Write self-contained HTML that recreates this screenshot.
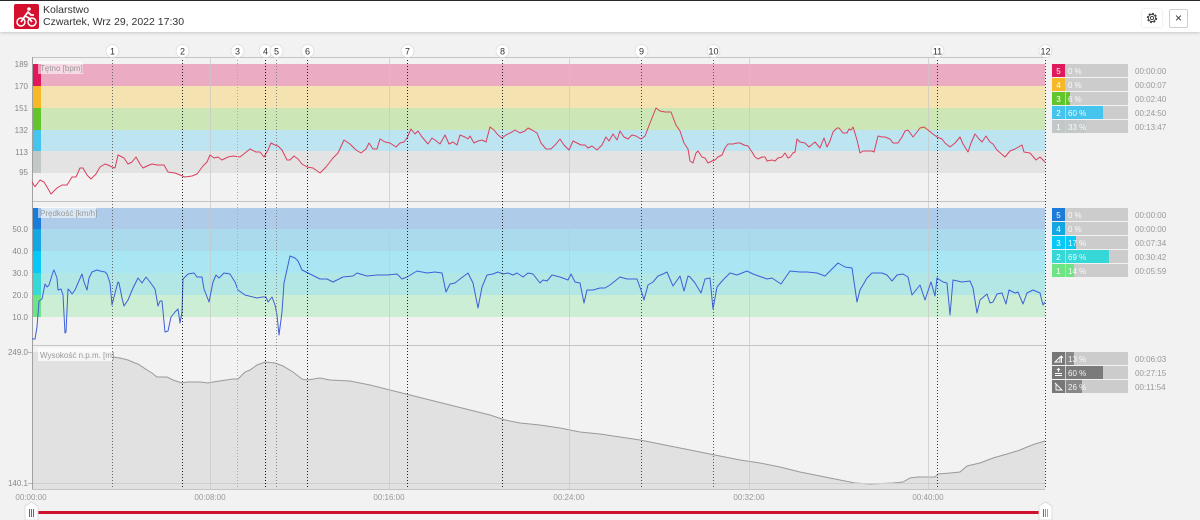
<!DOCTYPE html>
<html><head><meta charset="utf-8"><style>
html,body{margin:0;padding:0}
body{width:1200px;height:520px;background:#f2f2f2;overflow:hidden;position:relative;font-family:"Liberation Sans",sans-serif}
.hdr{position:absolute;left:0;top:0;width:1200px;height:32px;background:#fff;border-top:1px solid #2a2a2a;box-sizing:border-box;box-shadow:0 1px 3px rgba(0,0,0,.18)}
.ico{position:absolute;left:14px;top:3px;width:25px;height:25px;background:#d4102e;border-radius:2px}
.t1{position:absolute;left:43px;top:4px;font-size:10.5px;color:#333;line-height:11px}
.t2{position:absolute;left:43px;top:16px;font-size:10.5px;color:#333;line-height:11px}
.gear{position:absolute;left:1142px;top:8px;width:20px;height:18px;background:#fff;box-shadow:0 0 2px rgba(0,0,0,.15)}
.cls{position:absolute;left:1169px;top:8px;width:17px;height:17px;border:1px solid #d0d0d0;border-radius:2px;background:#fff;text-align:center;font-size:12px;line-height:17px;color:#333}
svg text{font-family:"Liberation Sans",sans-serif}
</style></head><body>
<div class="hdr">
 <div class="ico"><svg width="25" height="25" viewBox="0 0 25 25"><circle cx="7" cy="18" r="4" fill="none" stroke="#fff" stroke-width="1.5"/><circle cx="18" cy="18" r="4" fill="none" stroke="#fff" stroke-width="1.5"/><circle cx="15" cy="5" r="1.8" fill="#fff"/><path d="M7 18 L11 12 L15 14 L18 18 M11 12 L14 8 L17 11 L20 11" fill="none" stroke="#fff" stroke-width="1.8" stroke-linejoin="round"/></svg></div>
 <div class="t1">Kolarstwo</div>
 <div class="t2">Czwartek, Wrz 29, 2022 17:30</div>
 <div class="gear"><svg width="20" height="18" viewBox="0 0 20 18"><circle cx="10" cy="9" r="4.5" fill="none" stroke="#444" stroke-width="1.3" stroke-dasharray="2 1.5"/><circle cx="10" cy="9" r="3.6" fill="none" stroke="#444" stroke-width="1"/><circle cx="10" cy="9" r="1.6" fill="none" stroke="#444" stroke-width="1"/></svg></div>
 <div class="cls">×</div>
</div>
<svg width="1200" height="520" style="position:absolute;left:0;top:0" xmlns="http://www.w3.org/2000/svg">
<!-- HR bands -->
<rect x="32" y="64" width="1013" height="22" fill="#ebacc3"/>
<rect x="32" y="86" width="1013" height="22" fill="#f4e2b0"/>
<rect x="32" y="108" width="1013" height="22" fill="#cce6b6"/>
<rect x="32" y="130" width="1013" height="21" fill="#bde4f1"/>
<rect x="32" y="151" width="1013" height="22" fill="#e2e3e2"/>
<rect x="32" y="64" width="9" height="22" fill="#e0185c"/>
<rect x="32" y="86" width="9" height="22" fill="#f6b826"/>
<rect x="32" y="108" width="9" height="22" fill="#63c52b"/>
<rect x="32" y="130" width="9" height="21" fill="#45c4ee"/>
<rect x="32" y="151" width="9" height="22" fill="#c1c8c7"/>
<!-- speed bands -->
<rect x="32" y="208" width="1013" height="21" fill="#aecce9"/>
<rect x="32" y="229" width="1013" height="22" fill="#acdaed"/>
<rect x="32" y="251" width="1013" height="22" fill="#a9e6f4"/>
<rect x="32" y="273" width="1013" height="22" fill="#b2e7e5"/>
<rect x="32" y="295" width="1013" height="22" fill="#cbeed5"/>
<rect x="32" y="208" width="9" height="21" fill="#1a7bd9"/>
<rect x="32" y="229" width="9" height="22" fill="#12a6e2"/>
<rect x="32" y="251" width="9" height="22" fill="#08c8f7"/>
<rect x="32" y="273" width="9" height="22" fill="#36d7d7"/>
<rect x="32" y="295" width="9" height="22" fill="#6fe485"/>
<!-- elevation area -->
<polygon fill="#e1e1e1" points="32,352 112,352 113,357 120,358 128,360 135,363 138,364 147,370 152,373 157,377 167,377 173,380 182,383 187,382 193,382 200,382 208,383 213,382 233,379 238,379 245,372 250,370 257,365 265,362 275,363 283,366 293,372 302,379 307,380 320,378 330,380 350,381 370,385 390,390 410,395 430,400 450,405 470,410 490,415 505,420 520,423 540,425 560,428 580,432 600,434 620,437 640,440 660,444 680,448 700,452 720,456 740,460 760,463 780,467 800,472 820,476 840,480 855,483 870,484 893,483 903,482 910,478 918,477 935,477 938,474 950,473 960,472 967,466 980,463 993,458 1007,454 1020,450 1027,447 1035,444 1045,441 1045,489 32,489"/>
<polyline fill="none" stroke="#9a9a9a" stroke-width="1" points="112,352 113,357 120,358 128,360 135,363 138,364 147,370 152,373 157,377 167,377 173,380 182,383 187,382 193,382 200,382 208,383 213,382 233,379 238,379 245,372 250,370 257,365 265,362 275,363 283,366 293,372 302,379 307,380 320,378 330,380 350,381 370,385 390,390 410,395 430,400 450,405 470,410 490,415 505,420 520,423 540,425 560,428 580,432 600,434 620,437 640,440 660,444 680,448 700,452 720,456 740,460 760,463 780,467 800,472 820,476 840,480 855,483 870,484 893,483 903,482 910,478 918,477 935,477 938,474 950,473 960,472 967,466 980,463 993,458 1007,454 1020,450 1027,447 1035,444 1045,441"/>
<line x1="32" y1="483.5" x2="1045" y2="483.5" stroke="#cfcfcf"/>
<!-- grid vertical -->
<g stroke="#c8c8c8" stroke-opacity="0.7">
<line x1="210.5" y1="57" x2="210.5" y2="489"/>
<line x1="389.5" y1="57" x2="389.5" y2="489"/>
<line x1="569.5" y1="57" x2="569.5" y2="489"/>
<line x1="749.5" y1="57" x2="749.5" y2="489"/>
<line x1="928.5" y1="57" x2="928.5" y2="489"/>
</g>
<!-- horizontal separators -->
<g stroke="#c4c4c4">
<line x1="32" y1="57.5" x2="1045" y2="57.5"/>
<line x1="32" y1="201.5" x2="1045" y2="201.5"/>
<line x1="32" y1="345.5" x2="1045" y2="345.5"/>
<line x1="32" y1="489.5" x2="1045" y2="489.5"/>
</g>
<line x1="32.5" y1="57" x2="32.5" y2="489" stroke="#a0a0a0"/>
<!-- HR line -->
<polyline fill="none" stroke="#d9405e" stroke-width="1" stroke-linejoin="round" points="32,181.7 35,186.7 40,180 44,182 47,187 51,194 57,188 62,185 67,185 72,177 76,177 80,168 83,168 87,175 91,179 96,174 100,167 105,164 108,165 112,167 115,168 118,155 120,156 124,158 128,164 132,162 136,157 140,164 143,168 147,166 152,164 157,165 164,165 168,172 175,173 180,175 185,177 192,176 197,174 203,166 207,162 210,155 214,158 218,157 222,160 228,157 233,156 240,157 245,153 250,149 256,152 260,152 264,157 268,150 271,143 275,145 278,146 282,150 287,160 290,160 294,156 298,159 302,164 307,167 313,168 320,173 326,167 333,158 338,153 344,140 350,144 356,150 361,153 366,149 369,143 373,149 377,149 380,139 385,142 390,143 396,147 400,143 404,142 407,138 411,129 415,134 418,131 422,137 428,144 432,138 435,140 440,144 445,135 449,144 453,142 457,145 460,135 465,137 468,139 470,136 474,143 478,141 482,140 486,142 490,127 494,130 498,135 502,138 506,135 512,132 515,130 520,133 525,131 528,128 532,130 537,133 541,143 546,149 551,149 556,144 560,139 564,145 569,150 573,141 577,143 581,145 585,145 588,148 592,146 597,150 602,145 606,137 609,141 613,134 617,140 620,131 624,137 628,139 632,135 636,136 641,139 645,136 650,123 656,108 660,111 665,112 671,112 676,125 680,131 684,143 688,149 690,161 693,163 696,153 698,151 702,157 705,158 708,163 712,161 715,160 718,157 722,155 725,148 728,144 733,144 737,143 740,143 744,145 748,146 752,152 755,157 758,159 762,157 765,157 767,161 772,160 775,161 778,158 782,157 785,153 788,158 790,157 793,153 795,152 797,139 800,142 805,143 809,147 815,142 820,148 824,138 827,147 830,141 833,132 837,128 839,128 843,133 847,133 849,129 851,130 853,127 854,130 857,140 860,153 863,151 872,151 874,152 878,136 882,137 885,137 890,139 893,143 898,143 902,137 905,131 908,130 913,137 917,132 920,128 924,127 928,130 933,134 937,137 942,139 945,143 950,147 955,143 960,137 963,144 968,152 971,143 975,134 979,139 982,142 986,136 990,142 993,144 997,150 1005,157 1010,151 1015,149 1022,145 1024,152 1030,153 1036,160 1040,157 1045,162"/>
<!-- speed line -->
<polyline fill="none" stroke="#3d5fd9" stroke-width="1" stroke-linejoin="round" points="32,339 35,339 37,327 39,301 42,299 45,284 47,287 49,285 53,272 54,270 57,278 58,290 61,289 63,295 65,333 66,332 68,289 70,291 72,294 75,290 78,283 82,274 84,282 87,290 89,278 92,272 97,270 100,271 105,272 107,274 110,283 112,305 115,293 118,282 119,283 122,298 124,306 128,300 133,288 138,278 142,283 146,277 150,282 155,289 158,306 160,301 162,301 165,332 168,331 171,317 175,312 178,309 180,323 182,312 183,279 188,274 194,273 197,277 202,277 204,289 209,302 213,282 216,275 219,278 224,273 230,274 235,282 238,290 245,295 257,298 262,297 266,297 268,302 272,297 275,305 277,315 279,335 282,312 284,283 290,256 295,258 298,261 302,270 306,272 312,275 320,279 327,279 333,282 343,277 353,276 357,273 367,276 377,275 387,275 397,274 402,279 407,277 417,271 427,273 435,272 442,273 446,292 450,284 455,283 460,279 468,273 473,283 478,308 482,287 487,275 493,274 498,272 503,274 508,273 513,275 517,273 523,277 528,273 533,274 540,283 543,280 547,281 552,275 560,277 568,280 571,274 575,282 580,283 584,303 587,290 593,290 600,288 605,288 610,285 620,277 627,279 637,279 642,293 644,300 648,285 653,282 658,276 663,274 667,272 673,286 680,276 684,291 688,276 690,277 695,283 701,293 705,279 710,278 713,309 717,287 723,280 730,273 737,275 747,271 753,274 767,279 772,278 781,284 790,271 800,272 807,272 817,273 825,276 838,263 845,267 852,268 857,302 860,290 867,278 872,273 882,273 887,275 892,281 897,275 903,274 908,277 912,295 920,285 925,300 931,282 935,296 937,278 943,282 947,283 950,315 953,280 962,282 970,281 973,288 977,313 980,300 987,294 990,303 993,302 997,294 1002,293 1006,304 1009,290 1015,293 1018,292 1023,304 1027,293 1033,290 1040,293 1043,305 1045,302"/>
<!-- panel labels -->
<rect x="38" y="61" width="45" height="13" fill="#fff" fill-opacity="0.55"/>
<text x="40" y="71" font-size="8" fill="#999">Tętno [bpm]</text>
<rect x="38" y="207" width="58" height="11" fill="#fff" fill-opacity="0.55"/>
<text x="40" y="216" font-size="8" fill="#999">Prędkość [km/h]</text>
<rect x="38" y="348" width="75" height="13" fill="#fff" fill-opacity="0.7"/>
<text x="40" y="358" font-size="8" fill="#999">Wysokość n.p.m. [m]</text>
<!-- lap lines -->
<g stroke-dasharray="1 2" stroke-width="1">
<line x1="112.5" y1="57" x2="112.5" y2="489" stroke="#666"/>
<line x1="182.5" y1="57" x2="182.5" y2="489" stroke="#222"/>
<line x1="237.5" y1="57" x2="237.5" y2="489" stroke="#aaa"/>
<line x1="265.5" y1="57" x2="265.5" y2="489" stroke="#111"/>
<line x1="276.5" y1="57" x2="276.5" y2="489" stroke="#888"/>
<line x1="307.5" y1="57" x2="307.5" y2="489" stroke="#222"/>
<line x1="407.5" y1="57" x2="407.5" y2="489" stroke="#222"/>
<line x1="502.5" y1="57" x2="502.5" y2="489" stroke="#222"/>
<line x1="641.5" y1="57" x2="641.5" y2="489" stroke="#444"/>
<line x1="713.5" y1="57" x2="713.5" y2="489" stroke="#555"/>
<line x1="937.5" y1="57" x2="937.5" y2="489" stroke="#333"/>
<line x1="1045.5" y1="57" x2="1045.5" y2="489" stroke="#333"/>
</g>
<g fill="#fff" stroke="#dcdcdc" stroke-width="0.8">
<circle cx="112.5" cy="51" r="6.5"/><circle cx="182.5" cy="51" r="6.5"/><circle cx="237.5" cy="51" r="6.5"/><circle cx="265.5" cy="51" r="6.5"/><circle cx="276.5" cy="51" r="6.5"/><circle cx="307.5" cy="51" r="6.5"/><circle cx="407.5" cy="51" r="6.5"/><circle cx="502.5" cy="51" r="6.5"/><circle cx="641.5" cy="51" r="6.5"/><circle cx="713.5" cy="51" r="6.5"/><circle cx="937.5" cy="51" r="6.5"/><circle cx="1045.5" cy="51" r="6.5"/>
</g>
<g font-size="9" fill="#333" text-anchor="middle">
<text x="112.5" y="54.5">1</text><text x="182.5" y="54.5">2</text><text x="237.5" y="54.5">3</text><text x="265.5" y="54.5">4</text><text x="276.5" y="54.5">5</text><text x="307.5" y="54.5">6</text><text x="407.5" y="54.5">7</text><text x="502.5" y="54.5">8</text><text x="641.5" y="54.5">9</text><text x="713.5" y="54.5">10</text><text x="937.5" y="54.5">11</text><text x="1045.5" y="54.5">12</text>
</g>
<!-- y tick labels -->
<g font-size="8" fill="#888" text-anchor="end">
<text x="28" y="67">189</text><text x="28" y="89">170</text><text x="28" y="111">151</text><text x="28" y="133">132</text><text x="28" y="155">113</text><text x="28" y="175">95</text>
<text x="28" y="232">50.0</text><text x="28" y="254">40.0</text><text x="28" y="276">30.0</text><text x="28" y="298">20.0</text><text x="28" y="320">10.0</text>
<text x="28" y="355">249.0</text><text x="28" y="486">140.1</text>
</g>
<line x1="28" y1="352.5" x2="32" y2="352.5" stroke="#bbb"/>
<line x1="28" y1="483.5" x2="32" y2="483.5" stroke="#bbb"/>
<!-- x labels -->
<g font-size="8" fill="#999" text-anchor="middle">
<text x="31" y="500">00:00:00</text><text x="210" y="500">00:08:00</text><text x="389" y="500">00:16:00</text><text x="569" y="500">00:24:00</text><text x="749" y="500">00:32:00</text><text x="928" y="500">00:40:00</text>
</g>
<!-- slider -->
<rect x="32" y="511" width="1013" height="3" fill="#d0102f"/>
<g fill="#fff" stroke="#d8d8d8" stroke-width="0.8">
<polygon points="25,506 31.5,502 38,506 38,520 25,520"/>
<polygon points="1039,506 1045.5,502 1052,506 1052,520 1039,520"/>
</g>
<g stroke="#e0304a" stroke-width="1">
<line x1="29.5" y1="509" x2="29.5" y2="517"/><line x1="31.5" y1="509" x2="31.5" y2="517"/><line x1="33.5" y1="509" x2="33.5" y2="517"/>
<line x1="1043.5" y1="509" x2="1043.5" y2="517"/><line x1="1045.5" y1="509" x2="1045.5" y2="517" stroke="#e86a80"/><line x1="1047.5" y1="509" x2="1047.5" y2="517" stroke="#d88ab0"/>
</g>
<!-- legends -->
<g fill="#cccccc">
<rect x="1065" y="64" width="63" height="13"/><rect x="1065" y="78" width="63" height="13"/><rect x="1065" y="92" width="63" height="13"/><rect x="1065" y="106" width="63" height="13"/><rect x="1065" y="120" width="63" height="13"/>
<rect x="1065" y="208" width="63" height="13"/><rect x="1065" y="222" width="63" height="13"/><rect x="1065" y="236" width="63" height="13"/><rect x="1065" y="250" width="63" height="13"/><rect x="1065" y="264" width="63" height="13"/>
<rect x="1065" y="352" width="63" height="13"/><rect x="1065" y="366" width="63" height="13"/><rect x="1065" y="380" width="63" height="13"/>
</g>
<rect x="1052" y="64" width="13" height="13" fill="#e0185c"/>
<rect x="1052" y="78" width="13" height="13" fill="#f6b826"/>
<rect x="1052" y="92" width="13" height="13" fill="#63c52b"/><rect x="1066" y="92" width="4" height="13" fill="#63c52b"/>
<rect x="1052" y="106" width="13" height="13" fill="#45c4ee"/><rect x="1066" y="106" width="37" height="13" fill="#45c4ee"/>
<rect x="1052" y="120" width="13" height="13" fill="#c1c8c7"/><rect x="1066" y="120" width="20" height="13" fill="#c3c9c8"/>
<rect x="1052" y="208" width="13" height="13" fill="#1a7bd9"/>
<rect x="1052" y="222" width="13" height="13" fill="#12a6e2"/>
<rect x="1052" y="236" width="13" height="13" fill="#08c8f7"/><rect x="1066" y="236" width="10" height="13" fill="#08c8f7"/>
<rect x="1052" y="250" width="13" height="13" fill="#36d7d7"/><rect x="1066" y="250" width="43" height="13" fill="#36d7d7"/>
<rect x="1052" y="264" width="13" height="13" fill="#6fe485"/><rect x="1066" y="264" width="8" height="13" fill="#6fe485"/>
<g fill="#777"><rect x="1052" y="352" width="13" height="13"/><rect x="1052" y="366" width="13" height="13"/><rect x="1052" y="380" width="13" height="13"/></g>
<rect x="1066" y="352" width="8" height="13" fill="#888"/>
<rect x="1066" y="366" width="37" height="13" fill="#7a7a7a"/>
<rect x="1066" y="380" width="16" height="13" fill="#888"/>
<g stroke="#fff" stroke-width="0.9" fill="none">
<path d="M1055 362 L1060 357 L1060 362 Z M1061.5 356 L1061.5 363 M1060 358 L1061.5 356 L1063 358"/>
<path d="M1055 375.5 L1062 375.5 M1055 373.5 L1062 373.5 M1058.5 368.5 L1058.5 372 M1057 370 L1058.5 368.5 L1060 370"/>
<path d="M1056 390 L1056 384 L1062 390 Z M1055 383 L1058 386"/>
</g>
<g font-size="8" fill="#fff" text-anchor="middle">
<text x="1058.5" y="74">5</text><text x="1058.5" y="88">4</text><text x="1058.5" y="102">3</text><text x="1058.5" y="116">2</text><text x="1058.5" y="130">1</text>
<text x="1058.5" y="218">5</text><text x="1058.5" y="232">4</text><text x="1058.5" y="246">3</text><text x="1058.5" y="260">2</text><text x="1058.5" y="274">1</text>
</g>
<g font-size="8" fill="#fff" fill-opacity="0.9">
<text x="1068" y="74">0 %</text><text x="1068" y="88">0 %</text><text x="1068" y="102">6 %</text><text x="1068" y="116">60 %</text><text x="1068" y="130">33 %</text>
<text x="1068" y="218">0 %</text><text x="1068" y="232">0 %</text><text x="1068" y="246">17 %</text><text x="1068" y="260">69 %</text><text x="1068" y="274">14 %</text>
<text x="1068" y="362">13 %</text><text x="1068" y="376">60 %</text><text x="1068" y="390">26 %</text>
</g>
<g font-size="8" fill="#999">
<text x="1135" y="74">00:00:00</text><text x="1135" y="88">00:00:07</text><text x="1135" y="102">00:02:40</text><text x="1135" y="116">00:24:50</text><text x="1135" y="130">00:13:47</text>
<text x="1135" y="218">00:00:00</text><text x="1135" y="232">00:00:00</text><text x="1135" y="246">00:07:34</text><text x="1135" y="260">00:30:42</text><text x="1135" y="274">00:05:59</text>
<text x="1135" y="362">00:06:03</text><text x="1135" y="376">00:27:15</text><text x="1135" y="390">00:11:54</text>
</g>
</svg>
</body></html>
